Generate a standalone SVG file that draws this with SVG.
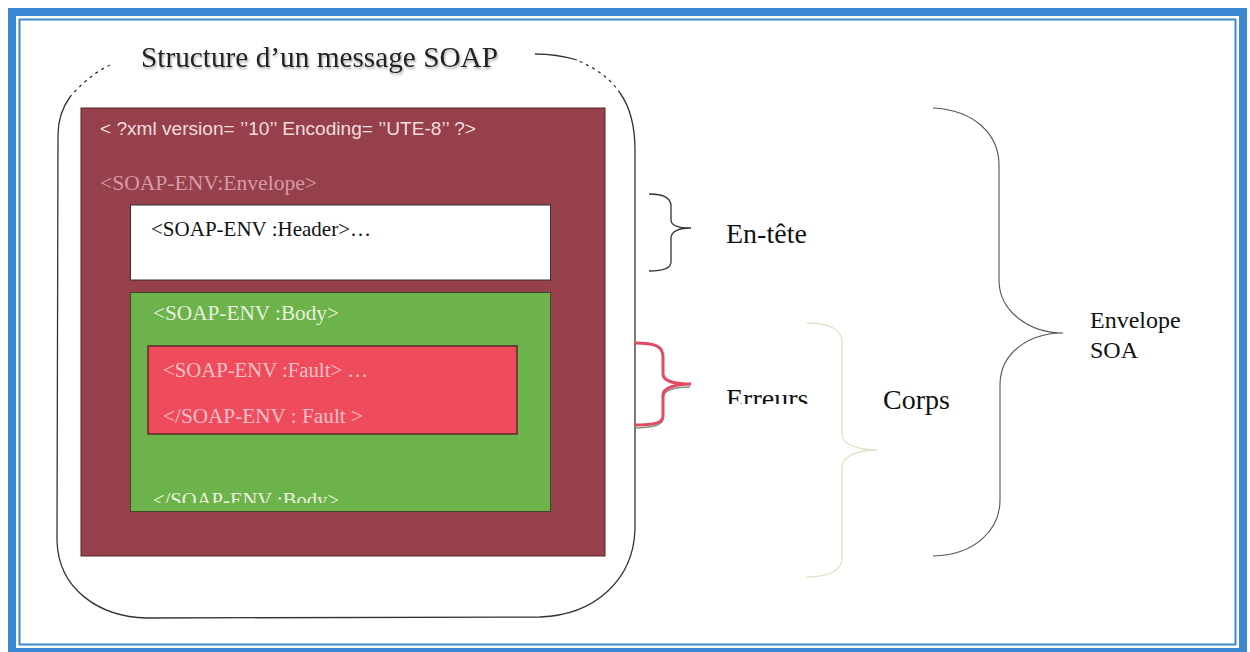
<svg xmlns="http://www.w3.org/2000/svg" width="1250" height="652" viewBox="0 0 1250 652">
<style>
.serif{font-family:"Liberation Serif","Times New Roman",serif}
.sans{font-family:"Liberation Sans",Arial,sans-serif}
.line{fill:none;stroke:#333;stroke-width:1.3}
.lbl{font-size:28px;fill:#111}
</style>
<defs>
<filter id="sh" x="-5%" y="-30%" width="110%" height="160%">
<feDropShadow dx="1" dy="2" stdDeviation="1" flood-color="#777" flood-opacity="0.6"/>
</filter>
<clipPath id="clipBodyEnd"><rect x="130" y="480" width="420" height="23"/></clipPath>
<clipPath id="clipErr"><rect x="700" y="370" width="120" height="34"/></clipPath>
</defs>
<rect width="1250" height="652" fill="#fff"/>
<g id="frame">
<rect x="12" y="12" width="1231" height="640" fill="none" stroke="#3d88d4" stroke-width="8"/>
<rect x="19.5" y="19.5" width="1216" height="625" fill="none" stroke="#3d88d4" stroke-width="2"/>
</g>
<g id="outline">
<path class="line" d="M70,97 C62,108 58,120 58,135 L57,540 C58,590 100,617 147,618 L540,617 C595,615 633,580 635,530 L635,150 C635,125 630,107 620,93"/>
<path class="line" stroke-dasharray="3 4" d="M110,65 C95,72 80,85 70,97"/>
<path class="line" stroke-dasharray="3 4" d="M620,93 C610,78 595,68 577,60"/>
<path class="line" d="M577,60 C560,55 548,54 535,54"/>
</g>
<g id="title">
<text class="serif" x="141" y="67" font-size="29" fill="#222" textLength="357" lengthAdjust="spacingAndGlyphs" filter="url(#sh)">Structure d’un message SOAP</text>
</g>
<g id="envelope">
<rect x="81" y="108" width="524" height="448" fill="#95404b" stroke="#5a2028" stroke-width="1"/>
<text class="sans" x="100" y="135" font-size="18" fill="#f3dcdc" textLength="376" lengthAdjust="spacingAndGlyphs">&lt; ?xml version= ’’10’’ Encoding= ’’UTE-8’’ ?&gt;</text>
<text class="serif" x="100" y="190" font-size="20" fill="#d89aa8" textLength="217" lengthAdjust="spacingAndGlyphs">&lt;SOAP-ENV:Envelope&gt;</text>
</g>
<g id="header">
<rect x="130.5" y="205" width="420" height="75" fill="#fff" stroke="#333" stroke-width="1"/>
<text class="serif" x="151" y="236" font-size="21" fill="#111" textLength="220" lengthAdjust="spacingAndGlyphs">&lt;SOAP-ENV :Header&gt;…</text>
</g>
<g id="body">
<rect x="130.5" y="292.5" width="420" height="219" fill="#6db34b" stroke="#3a4a2a" stroke-width="1"/>
<text class="serif" x="153" y="320" font-size="20" fill="#e8f2dc" textLength="186" lengthAdjust="spacingAndGlyphs">&lt;SOAP-ENV :Body&gt;</text>
<text class="serif" x="153" y="507" font-size="20" fill="#e8f2dc" clip-path="url(#clipBodyEnd)" textLength="186" lengthAdjust="spacingAndGlyphs">&lt;/SOAP-ENV :Body&gt;</text>
</g>
<g id="fault">
<rect x="148" y="346" width="369" height="88" fill="#ee4c5c" stroke="#5a2a2a" stroke-width="1.5"/>
<text class="serif" x="163" y="377" font-size="20" fill="#f8c0c8" textLength="205" lengthAdjust="spacingAndGlyphs">&lt;SOAP-ENV :Fault&gt; …</text>
<text class="serif" x="163" y="423" font-size="20" fill="#f8c0c8" textLength="200" lengthAdjust="spacingAndGlyphs">&lt;/SOAP-ENV : Fault &gt;</text>
</g>
<g id="connectors">
<path class="line" d="M649,194 C662,194 671,197 671,206 L671,220 C671,226 680,228 691,228 C680,228 671,231 671,238 L671,262 C671,268 662,271 649,271"/>
<path fill="none" stroke="#5f7a5a" stroke-width="1.5" opacity="0.8" d="M664,396 C664,390 675,387 690,387 M663,418 C663,425 655,427 636,428"/>
<path fill="none" stroke="#e24a64" stroke-width="3" d="M635,343 C655,343 663,346 663,357 L663,374 C663,381 675,384 691,384 C675,384 663,388 663,395 L663,416 C663,423 655,425 635,425"/>
<path fill="none" stroke="#dde4c4" stroke-width="1.3" d="M807,323 C830,323 842,330 842,342 L842,435 C842,444 858,450 877,450 C858,450 842,456 842,467 L842,558 C842,570 830,577 807,577"/>
<path fill="none" stroke="#555" stroke-width="1.1" d="M933,108 C975,110 999,135 999,165 L999,280 C999,312 1030,333 1063,333 C1030,333 1000,352 1000,385 L1000,500 C1000,530 975,555 933,556"/>
</g>
<g id="labels">
<text class="serif lbl" x="726" y="243">En-tête</text>
<text class="serif lbl" x="726" y="408" clip-path="url(#clipErr)">Erreurs</text>
<text class="serif lbl" x="883" y="409">Corps</text>
<text class="serif" x="1090" y="328" font-size="24" fill="#111">Envelope</text>
<text class="serif" x="1090" y="358" font-size="24" fill="#111">SOA</text>
</g>
</svg>
